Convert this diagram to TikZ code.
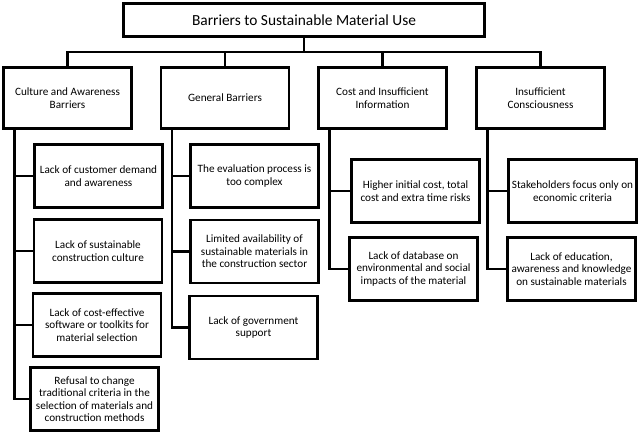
\documentclass[tikz,border=0pt]{standalone}
\usepackage{fontspec}
\setmainfont{Carlito}

\begin{document}
\begin{tikzpicture}[x = 1pt, y = 1pt, line width = 2.5pt]
\tikzstyle{titleStyle} = [shape = rectangle, draw, minimum width = 361pt, minimum height = 33pt, inner sep = 2pt, font = \fontsize{15.4}{18}\selectfont]
\tikzstyle{headStyle} = [shape = rectangle, draw, minimum width = 128pt, minimum height = 61pt, align = center, inner sep = 2pt, font = \fontsize{11.2}{12.5}\selectfont]
\tikzstyle{itemStyle} = [shape = rectangle, draw, minimum width = 128pt, minimum height = 63pt, align = center, inner sep = 2pt, font = \fontsize{11.2}{12.5}\selectfont]
\tikzstyle{linkStyle} = [line width = 2.5pt]
\useasboundingbox (0,0) rectangle (640,-434);
% top
\node[titleStyle] (top) at (304,-20) {Barriers to Sustainable Material Use};
% groups
\node[headStyle] (cult) at (67.5,-98) {Culture and Awareness\\Barriers};
\node[headStyle] (gen) at (225,-98) {General Barriers};
\node[headStyle] (cost) at (382.5,-98) {Cost and Insufficient\\Information};
\node[headStyle] (cons) at (540.5,-98) {Insufficient\\Consciousness};
% items
\node[itemStyle] (cultA) at (98.5,-176) {Lack of customer demand\\and awareness};
\node[itemStyle] (cultB) at (98,-251) {Lack of sustainable\\construction culture};
\node[itemStyle] (cultC) at (97,-325) {Lack of cost-effective\\software or toolkits for\\material selection};
\node[itemStyle] (cultD) at (94.5,-399) {Refusal to change\\traditional criteria in the\\selection of materials and\\construction methods};
\node[itemStyle] (genA) at (254.5,-176) {The evaluation process is\\too complex};
\node[itemStyle] (genB) at (254.5,-251.5) {Limited availability of\\sustainable materials in\\the construction sector};
\node[itemStyle] (genC) at (253.5,-327.5) {Lack of government\\support};
\node[itemStyle] (costA) at (415.5,-191) {Higher initial cost, total\\cost and extra time risks};
\node[itemStyle] (costB) at (413.5,-269) {Lack of database on\\environmental and social\\impacts of the material};
\node[itemStyle] (consA) at (572.5,-191) {Stakeholders focus only on\\economic criteria};
\node[itemStyle] (consB) at (571.5,-269) {Lack of education,\\awareness and knowledge\\on sustainable materials};
% links
\foreach \g in {cult, gen, cost, cons}
  \draw[linkStyle] (top.south) -- ++(0,-14) -| (\g.north);
\foreach \g/\i in {cult/cultA, cult/cultB, cult/cultC, cult/cultD, gen/genA, gen/genB, gen/genC, cost/costA, cost/costB, cons/consA, cons/consB}
  \draw[linkStyle] ([xshift = 12pt]\g.south west) |- (\i.west);
\end{tikzpicture}
\end{document}
